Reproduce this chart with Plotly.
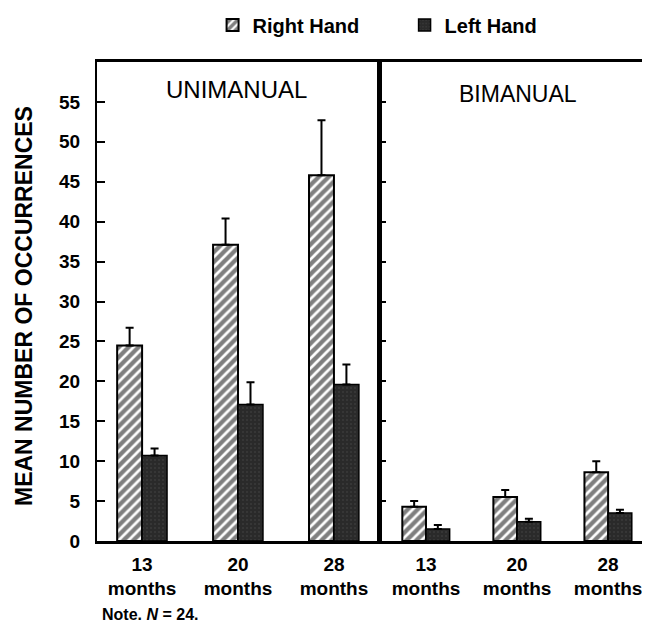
import plotly.graph_objects as go

categories = ["13<br>months", "20<br>months", "28<br>months"]
uni_right = [24.5, 37.1, 45.8]
uni_right_err = [2.2, 3.3, 6.9]
uni_left = [10.7, 17.1, 19.6]
uni_left_err = [0.9, 2.8, 2.5]
bi_right = [4.3, 5.5, 8.6]
bi_right_err = [0.7, 0.9, 1.4]
bi_left = [1.5, 2.4, 3.5]
bi_left_err = [0.5, 0.4, 0.4]
y_ticks = [0, 5, 10, 15, 20, 25, 30, 35, 40, 45, 50, 55]
panel_titles = ["UNIMANUAL", "BIMANUAL"]
legend_names = ["Right Hand", "Left Hand"]

FONT = "Liberation Sans"
hatch = dict(shape="/", fgcolor="black", bgcolor="white", size=7, solidity=0.62)
speck = dict(shape=".", fgcolor="#4a4a4a", bgcolor="#2a2a2a", size=4, solidity=0.2)


def err(vals):
    return dict(type="data", array=vals, arrayminus=[0] * len(vals), symmetric=False,
                color="black", thickness=2, width=4)


fig = go.Figure()
fig.add_trace(go.Bar(x=categories, y=uni_right, name=legend_names[0], legendgroup="r",
                     marker=dict(color="white", pattern=hatch, line=dict(color="black", width=2)),
                     error_y=err(uni_right_err), xaxis="x", yaxis="y"))
fig.add_trace(go.Bar(x=categories, y=uni_left, name=legend_names[1], legendgroup="l",
                     marker=dict(color="#2a2a2a", pattern=speck, line=dict(color="black", width=1.5)),
                     error_y=err(uni_left_err), xaxis="x", yaxis="y"))
fig.add_trace(go.Bar(x=categories, y=bi_right, name=legend_names[0], legendgroup="r", showlegend=False,
                     marker=dict(color="white", pattern=hatch, line=dict(color="black", width=2)),
                     error_y=err(bi_right_err), xaxis="x2", yaxis="y2"))
fig.add_trace(go.Bar(x=categories, y=bi_left, name=legend_names[1], legendgroup="l", showlegend=False,
                     marker=dict(color="#2a2a2a", pattern=speck, line=dict(color="black", width=1.5)),
                     error_y=err(bi_left_err), xaxis="x2", yaxis="y2"))

split = 283 / 553
ytickfont = dict(family=FONT, size=19, color="black", weight="bold")
xtickfont = dict(family=FONT, size=19, color="black", weight="bold")

# page is rendered with an 8px body margin, so the figure is 8px smaller than the window
fig.update_layout(
    width=642, height=614,
    margin=dict(l=89, r=0, t=54, b=81, autoexpand=False),
    paper_bgcolor="white", plot_bgcolor="white",
    barmode="group", bargap=0.48, bargroupgap=0,
    font=dict(family=FONT, color="black"),
    showlegend=True,
    legend=dict(orientation="h", x=0.209, xanchor="left", y=1.077, yanchor="middle",
                font=dict(family=FONT, size=20, color="black", weight="bold"),
                entrywidth=147, entrywidthmode="pixels",
                bgcolor="rgba(0,0,0,0)"),
    xaxis=dict(domain=[0, split], type="category", range=[-0.47, 2.48], automargin=False,
               showline=True, linecolor="black", linewidth=2.5, mirror=True,
               ticks="", tickfont=xtickfont, ticklabelstandoff=4, anchor="y", showgrid=False),
    yaxis=dict(domain=[0, 1], range=[0, 60], tickvals=y_ticks, automargin=False,
               showline=True, linecolor="black", linewidth=2, mirror=True,
               ticks="inside", ticklen=8, tickwidth=1.5, tickcolor="black",
               tickfont=ytickfont, ticklabelstandoff=11, showgrid=False, zeroline=False,
               anchor="x"),
    xaxis2=dict(domain=[split, 1], type="category", range=[-0.505, 2.46], automargin=False,
                showline=True, linecolor="black", linewidth=2.5, mirror=True,
                ticks="", tickfont=xtickfont, ticklabelstandoff=4, anchor="y2", showgrid=False),
    yaxis2=dict(domain=[0, 1], range=[0, 60], tickvals=y_ticks, automargin=False,
                showline=True, linecolor="black", linewidth=3,
                ticks="inside", ticklen=6, tickwidth=1.5, tickcolor="black",
                showticklabels=False, showgrid=False, zeroline=False, anchor="x2"),
)

fig.add_annotation(x=(236 - 97) / 553, y=(541 - 89) / 479, xref="paper", yref="paper",
                   xanchor="center", yanchor="middle",
                   text=panel_titles[0], showarrow=False,
                   font=dict(family=FONT, size=24, color="black"))
fig.add_annotation(x=(518 - 97) / 553, y=(541 - 94) / 479, xref="paper", yref="paper",
                   xanchor="center", yanchor="middle",
                   text=panel_titles[1], showarrow=False,
                   font=dict(family=FONT, size=23, color="black"))
fig.add_annotation(x=(24 - 97) / 553, y=(541 - 306) / 479, xref="paper", yref="paper",
                   xanchor="center", yanchor="middle",
                   text="MEAN NUMBER OF OCCURRENCES", textangle=-90, showarrow=False,
                   font=dict(family=FONT, size=23, color="black", weight="bold"))
fig.add_annotation(x=0, y=-(614 - 541) / 479, xref="paper", yref="paper",
                   xanchor="left", yanchor="middle", xshift=3,
                   text="Note. <i>N</i> = 24.", showarrow=False,
                   font=dict(family=FONT, size=16, color="black", weight="bold"))

fig.write_html("out.html")
